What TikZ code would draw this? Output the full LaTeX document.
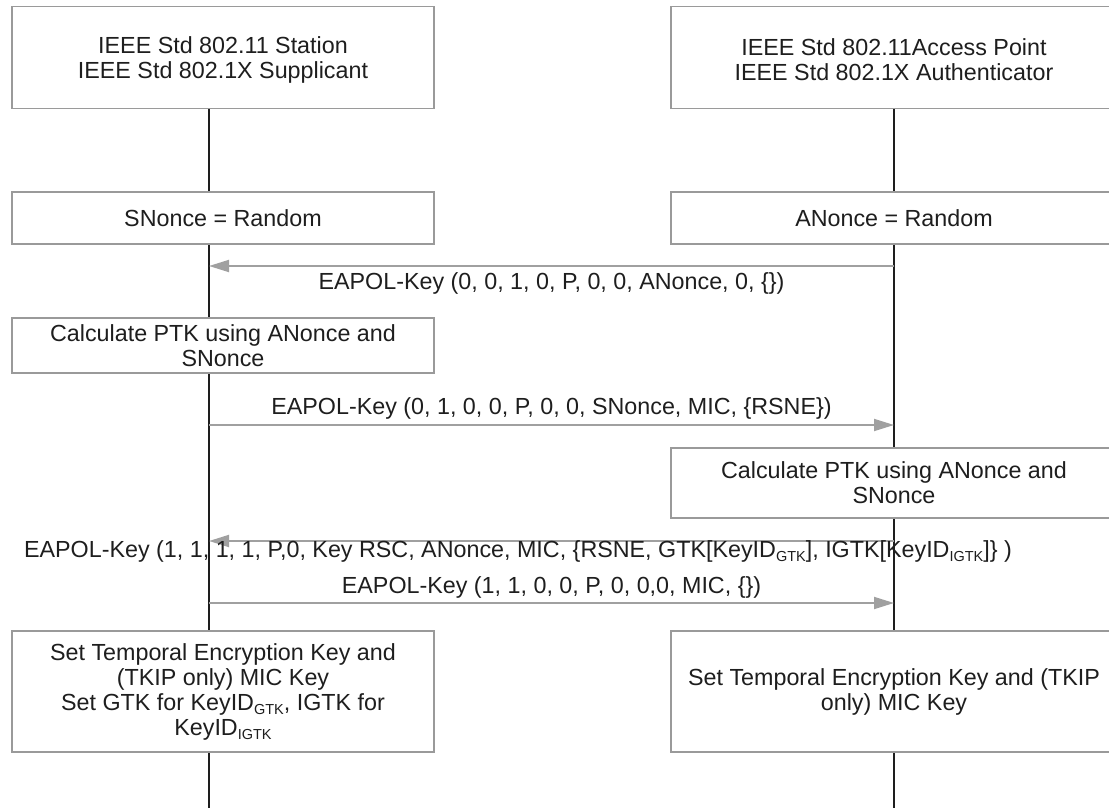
\documentclass[tikz,border=0pt]{standalone}
\usepackage{fontspec}
\setmainfont{Liberation Sans}
\usetikzlibrary{arrows.meta}
\definecolor{boxline}{HTML}{9A9A9A}
\definecolor{msgline}{HTML}{A0A0A0}
\definecolor{ink}{HTML}{1E1E1E}
% subscript used for the key identifiers
\newcommand\idsub[1]{\raisebox{-0.35ex}{\fontsize{14.5}{14.5}\selectfont #1}}

\begin{document}
\begin{tikzpicture}[x=1pt,y=-1pt,
  font=\fontsize{23.3}{25}\selectfont,
  box/.style={draw=boxline, line width=1.4pt, fill=white, align=center,
              inner sep=0pt, text=ink},
  life/.style={line width=1.8pt, draw=ink},
  msg/.style={draw=msgline, line width=1.8pt,
              -{Triangle[length=20pt,width=12pt,fill=msgline]}},
  lbl/.style={inner sep=0pt, text=ink, align=center}]
\useasboundingbox (0,0) rectangle (1109,808);
\clip (0,0) rectangle (1109,808);

% lifelines
\coordinate (s0) at (209,108);
\coordinate (s9) at (209,808);
\coordinate (a0) at (894,108);
\coordinate (a9) at (894,808);
\draw[life] (s0) -- (s9);
\draw[life] (a0) -- (a9);

% participants (text sits a little below the box centre)
\node[box, minimum width=422pt, minimum height=102pt] (sta) at (223,57.5) {};
\node[lbl] (staT) at (223,60)
  {IEEE Std 802.11 Station\\IEEE Std 802.1X Supplicant};
\node[box, minimum width=446pt, minimum height=102pt] (ap) at (894,57.5) {};
\node[lbl] (apT) at (894,60)
  {IEEE Std 802.11Access Point\\IEEE Std 802.1X Authenticator};

% local actions
\node[box, minimum width=422pt, minimum height=52pt] (sn) at (223,218)
  {SNonce = Random};
\node[box, minimum width=446pt, minimum height=52pt] (an) at (894,218)
  {ANonce = Random};
\node[box, minimum width=422pt, minimum height=55pt] (c1) at (223,345.5)
  {Calculate PTK using ANonce and\\SNonce};
\node[box, minimum width=446pt, minimum height=70pt] (c2) at (894,483)
  {Calculate PTK using ANonce and\\SNonce};
\node[box, minimum width=422pt, minimum height=121pt] (f1) at (223,691.5)
  {Set Temporal Encryption Key and\\(TKIP only) MIC Key\\
   Set GTK for KeyID\idsub{GTK}, IGTK for\\KeyID\idsub{IGTK}};
\node[box, minimum width=446pt, minimum height=121pt] (f2) at (894,691.5)
  {Set Temporal Encryption Key and (TKIP\\only) MIC Key};

% message end points
\coordinate (m1a) at (894,266); \coordinate (m1s) at (209,266);
\coordinate (m2s) at (209,425); \coordinate (m2a) at (894,425);
\coordinate (m3a) at (894,541); \coordinate (m3s) at (209,541);
\coordinate (m4s) at (209,603); \coordinate (m4a) at (894,603);

% messages
\draw[msg] (m1a) -- (m1s);
\node[lbl] (l1) at (551.5,283) {EAPOL-Key (0, 0, 1, 0, P, 0, 0, ANonce, 0, \{\})};
\draw[msg] (m2s) -- (m2a);
\node[lbl] (l2) at (551.5,408) {EAPOL-Key (0, 1, 0, 0, P, 0, 0, SNonce, MIC, \{RSNE\})};
\draw[msg] (m3a) -- (m3s);
\node[lbl] (l3) at (518,551)
  {EAPOL-Key (1, 1, 1, 1, P,0, Key RSC, ANonce, MIC, \{RSNE, GTK[KeyID\idsub{GTK}], IGTK[KeyID\idsub{IGTK}]\} )};
\draw[msg] (m4s) -- (m4a);
\node[lbl] (l4) at (551.5,587) {EAPOL-Key (1, 1, 0, 0, P, 0, 0,0, MIC, \{\})};
\end{tikzpicture}
\end{document}
